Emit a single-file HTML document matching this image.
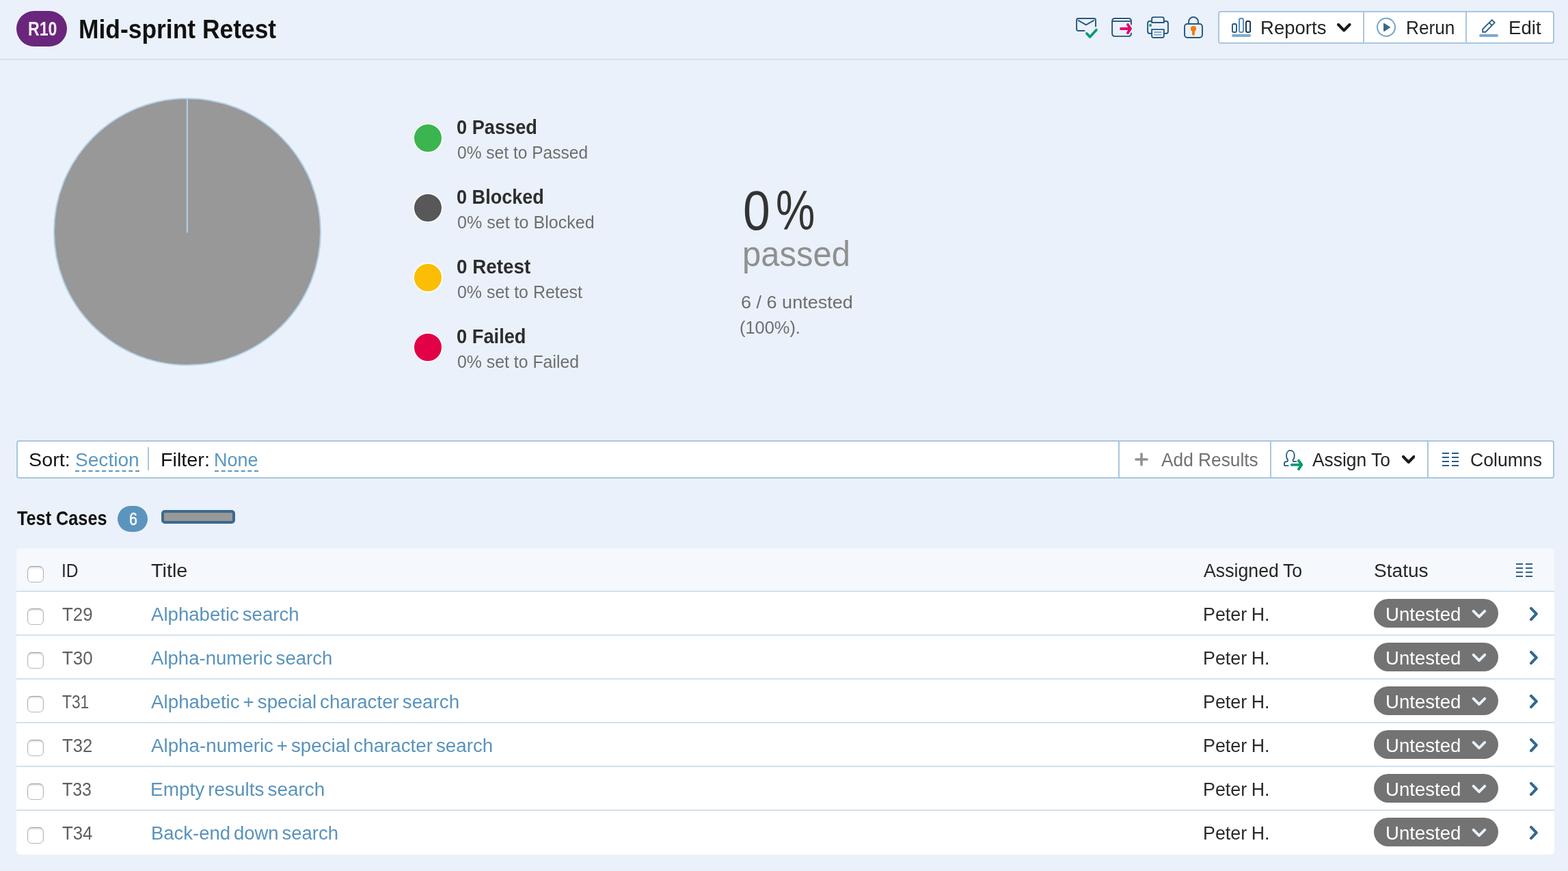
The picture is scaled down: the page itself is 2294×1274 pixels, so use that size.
<!DOCTYPE html>
<html lang="en">
<head>
<meta charset="utf-8">
<title>Mid-sprint Retest - TestRail</title>
<style>
*{box-sizing:border-box}
html,body{margin:0;padding:0}
body{width:2294px;height:1274px;overflow:hidden;background:#eaf1fa;font-family:"Liberation Sans",sans-serif;position:relative;color:#222}
.t{position:absolute;white-space:pre;margin:0;padding:0;font-weight:400;transform-origin:0 0;text-decoration:none;display:block}
.abs,.ic{position:absolute;display:block}
header{position:absolute;left:0;top:0;width:2294px;height:88px;border-bottom:2px solid #d3e2ee}
.badge{position:absolute;left:24px;top:16px;width:74px;height:52px;border-radius:26px;background:#69267c}
.btngroup{position:absolute;background:#fff;border:2px solid #a9c7de;border-radius:4px}
.sep{position:absolute;width:2px;background:#a9c7de}
.dot{position:absolute;left:604px;width:44px;height:44px;border-radius:50%;border:2px solid #fff}
.dash{position:absolute;height:2px;border-bottom:2px dashed #5a97be}
.count{position:absolute;left:172px;top:740px;width:44px;height:38px;border-radius:19px;background:#5b95be}
.progress{position:absolute;left:236px;top:746px;width:108px;height:20px;border-radius:5px;border:4px solid #3b6a8e;background:#989898}
#grid{position:absolute;left:24px;top:802px;width:2250px;height:448px;background:#fff;border-radius:6px;overflow:hidden}
#grid .head{position:absolute;left:0;top:0;width:100%;height:62px;background:#f5f8fc;border-radius:8px 8px 0 0}
#grid .rule{position:absolute;left:0;width:100%;height:2px;background:#d3e2ee}
.cb{position:absolute;left:40px;width:24px;height:24px;border-radius:6.5px;border:1.5px solid #b3b3b3;border-top-color:#9c9c9c;border-bottom-color:#b6b6b6;background:#fff;box-shadow:inset 0 2px 2.5px -0.5px rgba(0,0,0,.16)}
.pill{position:absolute;left:2010px;width:182px;height:42px;border-radius:21px;background:#737373}
</style>
</head>
<body>
<header>
<div class="badge"></div>
<span class="t" style="left:40.50px;top:28px;font-size:29px;line-height:29px;font-weight:700;color:#f4f0f5;transform:scaleX(0.7980);">R10</span>
<h1 class="t" style="left:115.27px;top:24px;font-size:38px;line-height:38px;font-weight:700;color:#111;transform:scaleX(0.9317);">Mid-sprint Retest</h1>
<nav class="actions">
<div class="btngroup" style="left:1782px;top:16px;width:492px;height:48px"></div>
<div class="sep" style="left:1994px;top:18px;height:44px"></div><div class="sep" style="left:2144px;top:18px;height:44px"></div>
<span class="t" style="left:1843.92px;top:26px;font-size:28.4px;line-height:28.4px;color:#242424;transform:scaleX(0.9698);">Reports</span><span class="t" style="left:2056.67px;top:26px;font-size:28.4px;line-height:28.4px;color:#242424;transform:scaleX(0.9235);">Rerun</span><span class="t" style="left:2206.91px;top:26px;font-size:28.4px;line-height:28.4px;color:#242424;transform:scaleX(0.9720);">Edit</span>
<svg class="ic chev" style="left:1956px;top:34px" width="20.5" height="12.5" viewBox="0 0 20.5 12.5"><path d="M2.0 2.0 L10.25 10.5 L18.5 2.0" fill="none" stroke="#1a1a1a" stroke-width="4" stroke-linecap="round" stroke-linejoin="round"/></svg>
<svg class="ic" style="left:1570px;top:20px" width="196" height="40" viewBox="1570 20 196 40" fill="none" stroke-linecap="round" stroke-linejoin="round">
<g stroke="#28597e" stroke-width="1.95">
<path d="M1586.6 44.9H1577.6Q1575.1 44.9 1575.1 42.4V29.4Q1575.1 26.9 1577.6 26.9H1600.5Q1603 26.9 1603 29.4V38.4"/>
<path d="M1577.6 29.9L1588.9 36.3L1600.2 29.9"/>
</g>
<path d="M1589.9 49L1594.6 54L1604 43.7" stroke="#0a9a71" stroke-width="3.7"/>
<path d="M1627.1 31V30.9Q1627.1 26.9 1631.1 26.9H1651Q1655 26.9 1655 30.9V31Z" fill="#fff" stroke="none"/>
<g stroke="#28597e" stroke-width="1.95">
<path d="M1655 35.4V30.9Q1655 26.9 1651 26.9H1631.1Q1627.1 26.9 1627.1 30.9V49.1Q1627.1 53.1 1631.1 53.1H1651Q1655 53.1 1655 49.1V48.6"/>
<path d="M1627.1 31H1655" stroke-linecap="butt"/>
</g>
<path d="M1640 42H1653.8M1649.9 36L1654 42L1649.9 48.1" stroke="#e5006d" stroke-width="3.8"/>
<path d="M1685.1 54.9H1702.8V43.1H1685.1Z" fill="#f3f7fc" stroke="none"/>
<g stroke="#28597e" stroke-width="1.95">
<path d="M1685.1 31H1682.1Q1679.1 31 1679.1 34V45.9Q1679.1 48.9 1682.1 48.9H1685.1M1702.8 31H1705.9Q1708.9 31 1708.9 34V45.9Q1708.9 48.9 1705.9 48.9H1702.8"/>
<path d="M1685.1 32.9V27.6Q1685.1 25.1 1687.6 25.1H1700.3Q1702.8 25.1 1702.8 27.6V32.9Z" stroke-linejoin="miter"/>
<path d="M1685.1 43.1H1702.8V52.4Q1702.8 54.9 1700.3 54.9H1687.6Q1685.1 54.9 1685.1 52.4Z" stroke-linejoin="miter"/>
</g>
<path d="M1688.2 47.05H1699.5M1688.2 50.9H1699.5" stroke="#79a9cb" stroke-width="1.9" stroke-linecap="butt"/>
<circle cx="1683.05" cy="37" r="2.05" fill="#0a9a71"/>
<g stroke="#28597e" stroke-width="1.95">
<rect x="1733.05" y="34.95" width="25.95" height="20.05" rx="4" ry="4"/>
<path d="M1739.05 34.9V31.9A6.95 6.95 0 0 1 1752.95 31.9V34.9" stroke-linecap="butt"/>
</g>
<circle cx="1746" cy="42.05" r="4.1" fill="#f07d00"/>
<path d="M1746 43V50.1" stroke="#f07d00" stroke-width="3.9"/>
</svg>
<svg class="ic" style="left:1796px;top:20px" width="400" height="40" viewBox="1796 20 400 40" fill="none" stroke-linecap="round" stroke-linejoin="round">
<g stroke-width="1.9">
<rect x="1803" y="35" width="6" height="12.1" rx="2.2" stroke="#255a83"/>
<rect x="1813" y="26.95" width="6" height="20.15" rx="2.2" stroke="#4e8bb8"/>
<rect x="1823" y="30.95" width="6.1" height="16.15" rx="2.2" stroke="#0e3350"/>
</g>
<path d="M1804 51.95H1828" stroke="#7eabcd" stroke-width="4"/>
<circle cx="2028.03" cy="39.87" r="13.05" stroke="#78a8c9" stroke-width="2.05"/>
<path d="M2024.8 34.7V45.3L2033.4 39.98Z" fill="#35688e" stroke="#35688e" stroke-width="1.4"/>
<path d="M2182.7 29.2L2186.7 33.1L2173.3 46.8H2169.2V42.7Z M2178.7 33.2L2182.7 37.1" stroke="#25577c" stroke-width="1.8" stroke-linejoin="miter" stroke-linecap="butt"/>
<path d="M2166 52.05H2190" stroke="#7aa9cb" stroke-width="3.9"/>
</svg>

</nav>
</header>
<section id="chart">
<svg class="ic" style="left:70px;top:135px" width="408" height="408" viewBox="70 135 408 408"><circle cx="274" cy="339" r="195" fill="#989898" stroke="#b1d0e6" stroke-width="2"/><path d="M273.9 144V339.4" stroke="#b1d0e6" stroke-width="2.1" stroke-linecap="round" fill="none"/></svg>
<ul style="list-style:none;margin:0;padding:0">
<li><i class="dot" style="top:180px;background:#3ab54f"></i><span class="t" style="left:668.37px;top:171px;font-size:30px;line-height:30px;font-weight:700;color:#2d2d2d;transform:scaleX(0.9065);">0 Passed</span><span class="t" style="left:669.17px;top:210px;font-size:26.4px;line-height:26.4px;color:#6e6e6e;transform:scaleX(0.9307);">0% set to Passed</span></li>
<li><i class="dot" style="top:282px;background:#585858"></i><span class="t" style="left:668.37px;top:273px;font-size:30px;line-height:30px;font-weight:700;color:#2d2d2d;transform:scaleX(0.9025);">0 Blocked</span><span class="t" style="left:669.15px;top:312px;font-size:26.4px;line-height:26.4px;color:#6e6e6e;transform:scaleX(0.9501);">0% set to Blocked</span></li>
<li><i class="dot" style="top:384px;background:#fcbd05"></i><span class="t" style="left:668.34px;top:375px;font-size:30px;line-height:30px;font-weight:700;color:#2d2d2d;transform:scaleX(0.9278);">0 Retest</span><span class="t" style="left:669.16px;top:414px;font-size:26.4px;line-height:26.4px;color:#6e6e6e;transform:scaleX(0.9449);">0% set to Retest</span></li>
<li><i class="dot" style="top:486px;background:#e20046"></i><span class="t" style="left:668.36px;top:477px;font-size:30px;line-height:30px;font-weight:700;color:#2d2d2d;transform:scaleX(0.9088);">0 Failed</span><span class="t" style="left:669.16px;top:516px;font-size:26.4px;line-height:26.4px;color:#6e6e6e;transform:scaleX(0.9410);">0% set to Failed</span></li>
</ul>
<div class="summary"><span class="t" style="left:1086.63px;top:268px;font-size:81px;line-height:81px;color:#333;transform:scaleX(0.8826);">0</span><span class="t" style="left:1134.61px;top:268px;font-size:81px;line-height:81px;color:#333;transform:scaleX(0.7955);">%</span><span class="t" style="left:1085.94px;top:345px;font-size:52px;line-height:52px;color:#909090;transform:scaleX(0.9416);">passed</span><span class="t" style="left:1084.02px;top:429px;font-size:26.4px;line-height:26.4px;color:#6e6e6e;transform:scaleX(1.0242);">6 / 6 untested</span><span class="t" style="left:1081.82px;top:466px;font-size:26.4px;line-height:26.4px;color:#6e6e6e;transform:scaleX(0.9620);">(100%).</span></div>
</section>
<div id="toolbar">
<div class="btngroup" style="left:24px;top:644px;width:2250px;height:56px"></div>
<span class="t" style="left:41.53px;top:658px;font-size:28.4px;line-height:28.4px;color:#111;transform:scaleX(1.0125);">Sort:</span><a class="t" style="left:109.66px;top:658px;font-size:28.4px;line-height:28.4px;color:#5a97be;transform:scaleX(0.9891);">Section</a><div class="dash" style="left:110px;top:688px;width:94px"></div><div class="sep" style="left:216px;top:654px;height:34px"></div><span class="t" style="left:235.22px;top:658px;font-size:28.4px;line-height:28.4px;color:#111;transform:scaleX(1.0136);">Filter:</span><a class="t" style="left:313.36px;top:658px;font-size:28.4px;line-height:28.4px;color:#5a97be;transform:scaleX(0.9525);">None</a><div class="dash" style="left:314px;top:688px;width:64px"></div>
<div class="sep" style="left:1636px;top:646px;height:52px"></div><div class="sep" style="left:1858px;top:646px;height:52px"></div><div class="sep" style="left:2088px;top:646px;height:52px"></div>
<span class="t" style="left:1699.00px;top:658px;font-size:28.4px;line-height:28.4px;color:#717171;transform:scaleX(0.9257);">Add Results</span><span class="t" style="left:1920.20px;top:658px;font-size:28.4px;line-height:28.4px;color:#242424;transform:scaleX(0.9292);">Assign To</span><span class="t" style="left:2150.79px;top:658px;font-size:28.4px;line-height:28.4px;color:#242424;transform:scaleX(0.9370);">Columns</span>
<svg class="ic" style="left:1660px;top:662px" width="20" height="20" viewBox="0 0 20 20"><path d="M10 2V18M2 10H18" stroke="#909090" stroke-width="3.6" stroke-linecap="round" fill="none"/></svg>
<svg class="ic chev" style="left:2050.5px;top:666px" width="19.5" height="12" viewBox="0 0 19.5 12"><path d="M2.0 2.0 L9.75 10.0 L17.5 2.0" fill="none" stroke="#1a1a1a" stroke-width="4" stroke-linecap="round" stroke-linejoin="round"/></svg>
<svg class="ic" style="left:2110px;top:662px" width="24" height="20" viewBox="0 0 24 20"><path d="M0 1H10M14 1H24" stroke="#2a5a85" stroke-width="2" fill="none"/><path d="M0 7H10M14 7H24" stroke="#2a5a85" stroke-width="2" fill="none"/><path d="M0 13H10M14 13H24" stroke="#2a5a85" stroke-width="2" fill="none"/><path d="M0 19H10M14 19H24" stroke="#2a5a85" stroke-width="2" fill="none"/></svg>
<svg class="ic" style="left:1870px;top:650px" width="44" height="44" viewBox="1870 650 44 44" fill="none" stroke-linecap="round" stroke-linejoin="round">
<path d="M1884.7 681.1H1880.7Q1878.95 681.1 1878.95 679.4V678.4Q1878.95 675.1 1882.2 675.1H1883.4Q1884.6 674 1884.2 672.6C1882.6 671.5 1882.1 669 1882.1 666C1882.1 662 1884.4 658.9 1887.9 658.9C1891.4 658.9 1893.7 662 1893.7 666C1893.7 669 1893.2 671.5 1891.6 672.6Q1891.2 674 1892.3 675.1H1896.5" stroke="#25577c" stroke-width="1.8"/>
<path d="M1889.8 679.95H1903.9M1899.9 673.7L1904.3 679.95L1899.9 686.2" stroke="#049a6f" stroke-width="3.8"/>
</svg>

</div>
<div id="group">
<h2 class="t" style="left:25.09px;top:743px;font-size:30px;line-height:30px;font-weight:700;color:#111;transform:scaleX(0.8420);">Test Cases</h2><div class="count"></div><span class="t" style="left:188.89px;top:746px;font-size:26.4px;line-height:26.4px;color:#fff;transform:scaleX(0.8082);-webkit-text-stroke:0.5px #fff;">6</span><div class="progress"></div>
</div>
<div id="grid">
<div class="head"></div>
<div class="rule" style="top:62px"></div><div class="rule" style="top:126px"></div><div class="rule" style="top:190px"></div><div class="rule" style="top:254px"></div><div class="rule" style="top:318px"></div><div class="rule" style="top:382px"></div>
</div>
<div id="gridtext" role="table">
<i class="cb" style="top:828px"></i><span class="t" style="left:90.14px;top:820px;font-size:28.4px;line-height:28.4px;color:#272727;transform:scaleX(0.8653);">ID</span><span class="t" style="left:220.94px;top:820px;font-size:28.4px;line-height:28.4px;color:#272727;transform:scaleX(1.0158);">Title</span><span class="t" style="left:1760.80px;top:820px;font-size:28.4px;line-height:28.4px;word-spacing:-0.03em;color:#272727;transform:scaleX(0.9408);">Assigned To</span><span class="t" style="left:2009.76px;top:820px;font-size:28.4px;line-height:28.4px;color:#272727;transform:scaleX(0.9891);">Status</span><svg class="ic" style="left:2218px;top:824px" width="24" height="20" viewBox="0 0 24 20"><path d="M0 1H10M14 1H24" stroke="#2f628a" stroke-width="2" fill="none"/><path d="M0 7H10M14 7H24" stroke="#2f628a" stroke-width="2" fill="none"/><path d="M0 13H10M14 13H24" stroke="#2f628a" stroke-width="2" fill="none"/><path d="M0 19H10M14 19H24" stroke="#2f628a" stroke-width="2" fill="none"/></svg>
<div class="row" role="row"><i class="cb" style="top:890px"></i><span class="t" style="left:90.92px;top:884px;font-size:28.4px;line-height:28.4px;color:#5f5f5f;transform:scaleX(0.9112);">T29</span><a class="t" style="left:220.80px;top:884px;font-size:28.4px;line-height:28.4px;word-spacing:-0.1em;color:#5a93bb;transform:scaleX(0.9719);">Alphabetic search</a><span class="t" style="left:1759.97px;top:884px;font-size:28.4px;line-height:28.4px;word-spacing:-0.04em;color:#2b2b2b;transform:scaleX(0.9466);">Peter H.</span><div class="pill" style="top:876px"></div><span class="t" style="left:2026.62px;top:884px;font-size:28.4px;line-height:28.4px;color:#fff;transform:scaleX(0.9708);">Untested</span><svg class="ic" style="left:2150px;top:888px" width="28" height="20" viewBox="2150 888 28 20"><path d="M2155.7 893.95L2163.95 902.10L2172.2 893.95" fill="none" stroke="#e9f1fa" stroke-width="4" stroke-linecap="round" stroke-linejoin="round"/></svg><svg class="ic" style="left:2234px;top:884px" width="20" height="28" viewBox="2234 884 20 28"><path d="M2240 889.90L2247.8 897.90L2240 906.10" fill="none" stroke="#33688f" stroke-width="4.2" stroke-linecap="round" stroke-linejoin="round"/></svg></div>
<div class="row" role="row"><i class="cb" style="top:954px"></i><span class="t" style="left:90.92px;top:948px;font-size:28.4px;line-height:28.4px;color:#5f5f5f;transform:scaleX(0.9128);">T30</span><a class="t" style="left:220.80px;top:948px;font-size:28.4px;line-height:28.4px;word-spacing:-0.1em;color:#5a93bb;transform:scaleX(0.9709);">Alpha-numeric search</a><span class="t" style="left:1759.97px;top:948px;font-size:28.4px;line-height:28.4px;word-spacing:-0.04em;color:#2b2b2b;transform:scaleX(0.9466);">Peter H.</span><div class="pill" style="top:940px"></div><span class="t" style="left:2026.62px;top:948px;font-size:28.4px;line-height:28.4px;color:#fff;transform:scaleX(0.9708);">Untested</span><svg class="ic" style="left:2150px;top:952px" width="28" height="20" viewBox="2150 952 28 20"><path d="M2155.7 957.95L2163.95 966.10L2172.2 957.95" fill="none" stroke="#e9f1fa" stroke-width="4" stroke-linecap="round" stroke-linejoin="round"/></svg><svg class="ic" style="left:2234px;top:948px" width="20" height="28" viewBox="2234 948 20 28"><path d="M2240 953.90L2247.8 961.90L2240 970.10" fill="none" stroke="#33688f" stroke-width="4.2" stroke-linecap="round" stroke-linejoin="round"/></svg></div>
<div class="row" role="row"><i class="cb" style="top:1018px"></i><span class="t" style="left:91.00px;top:1012px;font-size:28.4px;line-height:28.4px;color:#5f5f5f;transform:scaleX(0.8021);">T31</span><a class="t" style="left:220.80px;top:1012px;font-size:28.4px;line-height:28.4px;word-spacing:-0.1em;color:#5a93bb;transform:scaleX(0.9780);">Alphabetic + special character search</a><span class="t" style="left:1759.97px;top:1012px;font-size:28.4px;line-height:28.4px;word-spacing:-0.04em;color:#2b2b2b;transform:scaleX(0.9466);">Peter H.</span><div class="pill" style="top:1004px"></div><span class="t" style="left:2026.62px;top:1012px;font-size:28.4px;line-height:28.4px;color:#fff;transform:scaleX(0.9708);">Untested</span><svg class="ic" style="left:2150px;top:1016px" width="28" height="20" viewBox="2150 1016 28 20"><path d="M2155.7 1021.95L2163.95 1030.10L2172.2 1021.95" fill="none" stroke="#e9f1fa" stroke-width="4" stroke-linecap="round" stroke-linejoin="round"/></svg><svg class="ic" style="left:2234px;top:1012px" width="20" height="28" viewBox="2234 1012 20 28"><path d="M2240 1017.90L2247.8 1025.90L2240 1034.10" fill="none" stroke="#33688f" stroke-width="4.2" stroke-linecap="round" stroke-linejoin="round"/></svg></div>
<div class="row" role="row"><i class="cb" style="top:1082px"></i><span class="t" style="left:90.92px;top:1076px;font-size:28.4px;line-height:28.4px;color:#5f5f5f;transform:scaleX(0.9027);">T32</span><a class="t" style="left:220.80px;top:1076px;font-size:28.4px;line-height:28.4px;word-spacing:-0.1em;color:#5a93bb;transform:scaleX(0.9775);">Alpha-numeric + special character search</a><span class="t" style="left:1759.97px;top:1076px;font-size:28.4px;line-height:28.4px;word-spacing:-0.04em;color:#2b2b2b;transform:scaleX(0.9466);">Peter H.</span><div class="pill" style="top:1068px"></div><span class="t" style="left:2026.62px;top:1076px;font-size:28.4px;line-height:28.4px;color:#fff;transform:scaleX(0.9708);">Untested</span><svg class="ic" style="left:2150px;top:1080px" width="28" height="20" viewBox="2150 1080 28 20"><path d="M2155.7 1085.95L2163.95 1094.10L2172.2 1085.95" fill="none" stroke="#e9f1fa" stroke-width="4" stroke-linecap="round" stroke-linejoin="round"/></svg><svg class="ic" style="left:2234px;top:1076px" width="20" height="28" viewBox="2234 1076 20 28"><path d="M2240 1081.90L2247.8 1089.90L2240 1098.10" fill="none" stroke="#33688f" stroke-width="4.2" stroke-linecap="round" stroke-linejoin="round"/></svg></div>
<div class="row" role="row"><i class="cb" style="top:1146px"></i><span class="t" style="left:90.94px;top:1140px;font-size:28.4px;line-height:28.4px;color:#5f5f5f;transform:scaleX(0.8766);">T33</span><a class="t" style="left:220.48px;top:1140px;font-size:28.4px;line-height:28.4px;word-spacing:-0.1em;color:#5a93bb;transform:scaleX(0.9845);">Empty results search</a><span class="t" style="left:1759.97px;top:1140px;font-size:28.4px;line-height:28.4px;word-spacing:-0.04em;color:#2b2b2b;transform:scaleX(0.9466);">Peter H.</span><div class="pill" style="top:1132px"></div><span class="t" style="left:2026.62px;top:1140px;font-size:28.4px;line-height:28.4px;color:#fff;transform:scaleX(0.9708);">Untested</span><svg class="ic" style="left:2150px;top:1144px" width="28" height="20" viewBox="2150 1144 28 20"><path d="M2155.7 1149.95L2163.95 1158.10L2172.2 1149.95" fill="none" stroke="#e9f1fa" stroke-width="4" stroke-linecap="round" stroke-linejoin="round"/></svg><svg class="ic" style="left:2234px;top:1140px" width="20" height="28" viewBox="2234 1140 20 28"><path d="M2240 1145.90L2247.8 1153.90L2240 1162.10" fill="none" stroke="#33688f" stroke-width="4.2" stroke-linecap="round" stroke-linejoin="round"/></svg></div>
<div class="row" role="row"><i class="cb" style="top:1210px"></i><span class="t" style="left:90.92px;top:1204px;font-size:28.4px;line-height:28.4px;color:#5f5f5f;transform:scaleX(0.9079);">T34</span><a class="t" style="left:220.52px;top:1204px;font-size:28.4px;line-height:28.4px;word-spacing:-0.1em;color:#5a93bb;transform:scaleX(0.9677);">Back-end down search</a><span class="t" style="left:1759.97px;top:1204px;font-size:28.4px;line-height:28.4px;word-spacing:-0.04em;color:#2b2b2b;transform:scaleX(0.9466);">Peter H.</span><div class="pill" style="top:1196px"></div><span class="t" style="left:2026.62px;top:1204px;font-size:28.4px;line-height:28.4px;color:#fff;transform:scaleX(0.9708);">Untested</span><svg class="ic" style="left:2150px;top:1208px" width="28" height="20" viewBox="2150 1208 28 20"><path d="M2155.7 1213.95L2163.95 1222.10L2172.2 1213.95" fill="none" stroke="#e9f1fa" stroke-width="4" stroke-linecap="round" stroke-linejoin="round"/></svg><svg class="ic" style="left:2234px;top:1204px" width="20" height="28" viewBox="2234 1204 20 28"><path d="M2240 1209.90L2247.8 1217.90L2240 1226.10" fill="none" stroke="#33688f" stroke-width="4.2" stroke-linecap="round" stroke-linejoin="round"/></svg></div>
</div>
</body>
</html>
